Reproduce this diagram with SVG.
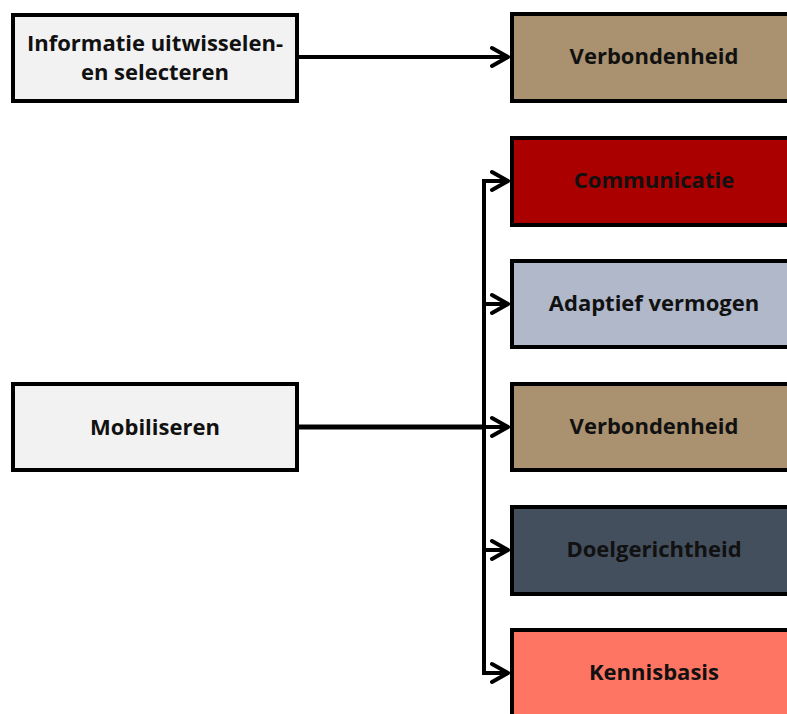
<svg xmlns="http://www.w3.org/2000/svg" width="787" height="714" viewBox="0 0 787 714">
  <defs>
    <style>
      .box { stroke: #000; stroke-width: 4; }
      .src { fill: #F2F2F2; }
      .lbl { font-family: "Open Sans", "DejaVu Sans", sans-serif; font-weight: 700; font-size: 22px; fill: #111; text-anchor: middle; }
      .wire { fill: none; stroke: #000; stroke-width: 4; stroke-linejoin: miter; }
      .head { fill: none; stroke: #000; stroke-width: 4; stroke-linecap: round; stroke-linejoin: round; }
    </style>
  </defs>
  <rect width="787" height="714" fill="#fff"/>

  <!-- connectors -->
  <g id="connectors">
    <line class="wire" x1="299" y1="57" x2="508" y2="57"/>
    <path class="head" d="M492 48 L508 57 L492 66"/>

    <line class="wire" x1="299" y1="427" x2="484" y2="427" style="stroke-width:5"/>
    <path class="wire" d="M508 181 H484 V673 H508"/>
    <line class="wire" x1="484" y1="304" x2="508" y2="304"/>
    <line class="wire" x1="484" y1="427" x2="508" y2="427"/>
    <line class="wire" x1="484" y1="550" x2="508" y2="550"/>
    <path class="head" d="M492 172 L508 181 L492 190"/>
    <path class="head" d="M492 295 L508 304 L492 313"/>
    <path class="head" d="M492 418 L508 427 L492 436"/>
    <path class="head" d="M492 541 L508 550 L492 559"/>
    <path class="head" d="M492 664 L508 673 L492 682"/>
  </g>

  <!-- source nodes -->
  <g id="informatie">
    <rect class="box src" x="13" y="15" width="284" height="86"/>
    <text class="lbl" x="155" y="51">Informatie uitwisselen-</text>
    <text class="lbl" x="155" y="80">en selecteren</text>
  </g>
  <g id="mobiliseren">
    <rect class="box src" x="13" y="384" width="284" height="86"/>
    <text class="lbl" x="155" y="435">Mobiliseren</text>
  </g>

  <!-- target nodes -->
  <g id="verbondenheid-1">
    <rect class="box" x="512" y="14" width="290" height="87" fill="#AA916F"/>
    <text class="lbl" x="654" y="64">Verbondenheid</text>
  </g>
  <g id="communicatie">
    <rect class="box" x="512" y="138" width="290" height="87" fill="#AA0000"/>
    <text class="lbl" x="654" y="188">Communicatie</text>
  </g>
  <g id="adaptief-vermogen">
    <rect class="box" x="512" y="261" width="290" height="86" fill="#B0B8CA"/>
    <text class="lbl" x="654" y="311">Adaptief vermogen</text>
  </g>
  <g id="verbondenheid-2">
    <rect class="box" x="512" y="384" width="290" height="86" fill="#AA916F"/>
    <text class="lbl" x="654" y="434">Verbondenheid</text>
  </g>
  <g id="doelgerichtheid">
    <rect class="box" x="512" y="507" width="290" height="87" fill="#434F5D"/>
    <text class="lbl" x="654" y="557">Doelgerichtheid</text>
  </g>
  <g id="kennisbasis">
    <rect class="box" x="512" y="630" width="290" height="100" fill="#FF7563"/>
    <text class="lbl" x="654" y="680">Kennisbasis</text>
  </g>
</svg>
